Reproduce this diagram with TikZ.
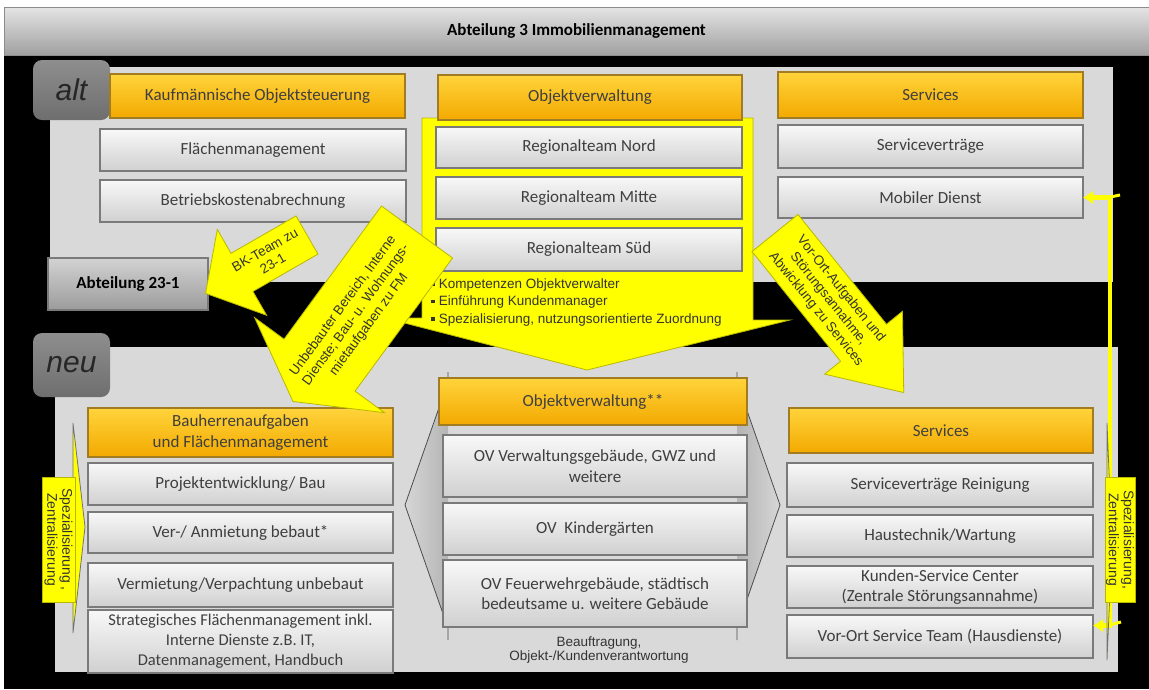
\documentclass[tikz,border=0pt]{standalone}
\usepackage{fontspec}
\setmainfont{Carlito}
\newfontfamily\arialf{Liberation Sans}
\usetikzlibrary{arrows.meta}
\definecolor{panel}{HTML}{D9D9D9}
\definecolor{tabtop}{HTML}{8E8E8E}
\definecolor{tabbot}{HTML}{6E6E6E}
\definecolor{ortop}{HTML}{FFD43B}
\definecolor{orbot}{HTML}{F3A900}
\definecolor{oredge}{HTML}{A27C22}
\definecolor{boxtop}{HTML}{F8F8F8}
\definecolor{boxbot}{HTML}{D0D0D0}
\definecolor{boxedge}{HTML}{7A7A7A}
\definecolor{gtop}{HTML}{D2D2D2}
\definecolor{gbot}{HTML}{9C9C9C}
\definecolor{txt}{HTML}{3F3F3F}
\definecolor{yel}{HTML}{FFFF00}
\definecolor{yedge}{HTML}{B8B800}
\definecolor{bartop}{HTML}{E4E4E4}
\definecolor{barbot}{HTML}{A0A0A0}
\definecolor{hexin}{HTML}{B4B4B4}
\definecolor{hexout}{HTML}{D6D6D6}
\tikzset{
  sz/.style 2 args={minimum width=#1pt, minimum height=#2pt},
  base/.style={rectangle, inner sep=2pt, outer sep=0pt, align=center, text=txt,
    font=\fontsize{17}{20.5}\selectfont},
  wbox/.style={base, top color=boxtop, bottom color=boxbot, draw=boxedge, line width=1.4pt},
  obox/.style={base, top color=ortop, bottom color=orbot, draw=oredge, line width=1.2pt},
  gbox/.style={base, top color=gtop, bottom color=gbot, draw=boxedge, line width=1.4pt,
    text=black, font=\bfseries\fontsize{17}{20}\selectfont},
  tabbox/.style={rectangle, rounded corners=9pt, top color=tabtop, bottom color=tabbot,
    draw=none, text=black!85, font=\arialf\itshape\fontsize{30}{30}\selectfont},
  panelbox/.style={fill=panel, draw=none},
  yarrow/.style={fill=yel, draw=yedge, line width=0.8pt},
  atext/.style={align=center, text=black!80, inner sep=0pt,
    font=\arialf\fontsize{13.5}{16}\selectfont},
  bullet/.style={anchor=west, inner sep=0pt, text=black!80,
    font=\arialf\fontsize{13.5}{15}\selectfont},
  ylabel/.style={rectangle, fill=yel, draw=yedge, line width=0.5pt, align=center, text=black!80,
    inner sep=1pt, font=\arialf\fontsize{14}{15}\selectfont},
  wedge/.style={fill=yel, draw=black!55, line width=0.8pt},
  hexside/.style={draw=black!70, line width=0.8pt},
}
\newcommand{\sqb}{\leavevmode\raisebox{2.5pt}{\rule{3.6pt}{3.6pt}}\hspace{4pt}}
\begin{document}
\begin{tikzpicture}[x=1pt,y=1pt]
\useasboundingbox (0,0) rectangle (1149,-689);
% background
\fill[white] (0,0) rectangle (1149,-689);
\fill[black] (4,-55) rectangle (1149,-689);
\node[rectangle, top color=bartop, bottom color=barbot, draw=black!45, line width=0.8pt,
  minimum width=1145pt, minimum height=48pt, inner sep=0pt,
  font=\bfseries\fontsize{17}{20}\selectfont] (bar) at (576.5,-31) {Abteilung 3 Immobilienmanagement};
% panels
\fill[panelbox] (50,-67) rectangle (1113,-282);
\fill[panelbox] (55,-347) rectangle (1118,-672);
\node[tabbox, sz={77}{60}] (talt) at (71.5,-90) {alt};
\node[tabbox, sz={77}{64}] (tneu) at (71.5,-365) {neu};
% chevrons behind middle new column
\shade[left color=hexout, right color=hexin] (448,-382) -- (405,-505) -- (448,-628) -- (447,-628) -- cycle;
\shade[left color=hexout, right color=hexin] (448,-382) -- (405,-505) -- (448,-628) -- cycle;
\shade[left color=hexin, right color=hexout] (737,-382) -- (780,-505) -- (737,-628) -- cycle;
\draw[hexside] (448,-372) -- (448,-382) -- (405,-505) -- (448,-628) -- (448,-640);
\draw[hexside] (737,-372) -- (737,-382) -- (780,-505) -- (737,-628) -- (737,-640);
% yellow callout (old Objektverwaltung)
\draw[yarrow] (422,-118) -- (753,-118) -- (753,-320) -- (790,-320) -- (587,-370) -- (385,-318) -- (422,-318) -- cycle;
% old boxes
\node[obox, sz={295}{44}] (kos) at (257.5,-96) {Kaufmännische Objektsteuerung};
\node[wbox, sz={306}{42}] (flm) at (253,-150) {Flächenmanagement};
\node[wbox, sz={306}{42}] (bka) at (253,-201) {Betriebskostenabrechnung};
\node[gbox, sz={160}{52}] (abt) at (128,-284) {Abteilung 23-1};
\node[obox, sz={304}{45}] (ovh) at (590,-97.5) {Objektverwaltung};
\node[wbox, sz={306}{41}] (rn) at (589,-147.5) {Regionalteam Nord};
\node[wbox, sz={306}{42}] (rm) at (589,-198) {Regionalteam Mitte};
\node[wbox, sz={306}{43}] (rs) at (589,-249.5) {Regionalteam Süd};
\node[obox, sz={305}{46}] (svh) at (930.5,-95) {Services};
\node[wbox, sz={305}{43}] (sv) at (930.5,-146.5) {Serviceverträge};
\node[wbox, sz={305}{41}] (md) at (930.5,-197.5) {Mobiler Dienst};
\node[bullet] (b1) at (431,-285) {\sqb Kompetenzen Objektverwalter};
\node[bullet] (b2) at (431,-302.5) {\sqb Einführung Kundenmanager};
\node[bullet] (b3) at (431,-320) {\sqb Spezialisierung, nutzungsorientierte Zuordnung};
% new boxes
\node[obox, sz={305}{49}] (bh) at (240.5,-432.5) {Bauherrenaufgaben\\und Flächenmanagement};
\node[wbox, sz={305}{42}] (pe) at (240.5,-484) {Projektentwicklung/ Bau};
\node[wbox, sz={305}{41}] (va) at (240.5,-532.5) {Ver-/ Anmietung bebaut*};
\node[wbox, sz={305}{44}] (vv) at (240.5,-585) {Vermietung/Verpachtung unbebaut};
\node[wbox, sz={305}{63}, font=\fontsize{16.5}{20}\selectfont] (sf) at (240.5,-641.5)
  {Strategisches Flächenmanagement inkl.\\Interne Dienste z.B. IT,\\Datenmanagement, Handbuch};
\node[obox, sz={308}{47}] (ovn) at (593,-401.5) {Objektverwaltung**};
\node[wbox, sz={304}{62}] (ov1) at (595,-466) {OV Verwaltungsgebäude, GWZ und\\weitere};
\node[wbox, sz={304}{52}] (ov2) at (595,-529) {OV\ \ Kindergärten};
\node[wbox, sz={304}{67}] (ov3) at (595,-593.5) {OV Feuerwehrgebäude, städtisch\\bedeutsame u. weitere Gebäude};
\node[atext, font=\arialf\fontsize{13.5}{14.5}\selectfont] (bea) at (599,-650) {Beauftragung,\\Objekt-/Kundenverantwortung};
\node[obox, sz={304}{45}] (svn) at (941,-430.5) {Services};
\node[wbox, sz={306}{44}] (sr) at (940,-485) {Serviceverträge Reinigung};
\node[wbox, sz={306}{42}] (ht) at (940,-536) {Haustechnik/Wartung};
\node[wbox, sz={306}{42}] (ksc) at (940,-587) {Kunden-Service Center\\(Zentrale Störungsannahme)};
\node[wbox, sz={306}{43}] (vot) at (940,-636.5) {Vor-Ort Service Team (Hausdienste)};
% block arrows
\begin{scope}[shift={(307,-235)}, rotate=209.9]
  \draw[yarrow] (0,22) -- (75,22) -- (75,49.5) -- (117,0) -- (75,-49.5) -- (75,-22) -- (0,-22) -- cycle;
  \node[atext, rotate=29.9] (tbk) at (44,0) {BK-Team zu\\23-1};
\end{scope}
\begin{scope}[shift={(417,-232)}, rotate=233.8]
  \draw[yarrow] (0,44) -- (165,44) -- (165,80.5) -- (210,0) -- (165,-80.5) -- (165,-44) -- (0,-44) -- cycle;
  \node[atext, rotate=53.8] (tfm) at (103,0) {Unbebauter Bereich, Interne\\Dienste; Bau- u. Wohnungs-\\mietaufgaben zu FM};
\end{scope}
\begin{scope}[shift={(775,-233)}, rotate=-51.1]
  \draw[yarrow] (0,29.5) -- (141,29.5) -- (141,50) -- (205,0) -- (141,-50) -- (141,-29.5) -- (0,-29.5) -- cycle;
  \node[atext, rotate=-51.1] (tvo) at (85,0) {Vor-Ort-Aufgaben und\\Störungsannahme,\\Abwicklung zu Services};
\end{scope}
% left side wedge and label
\draw[wedge] (73,-423) -- (85,-527) -- (73,-633) -- cycle;
\node[ylabel, rotate=-90, sz={125}{33}] (lspz) at (58.5,-539.5) {Spezialisierung ,\\Zentralisierung};
% right bracket connector
\draw[yel, line width=4.5pt, {Latex[length=10pt,width=14pt]}-{Latex[length=10pt,width=14pt]}]
  (md.east) -- ++(27,0) |- ([yshift=11pt]vot.east);
\draw[yel, line width=3pt] (1108,-197.5) -- (1120,-195);
\draw[yel, line width=3pt] (1108,-625.5) -- (1121,-622);
\draw[wedge] (1107,-423) -- (1112,-545) -- (1107,-660) -- cycle;
\node[ylabel, rotate=-90, sz={125}{30}] (rspz) at (1120,-539.5) {Spezialisierung,\\Zentralisierung};
\end{tikzpicture}
\end{document}
